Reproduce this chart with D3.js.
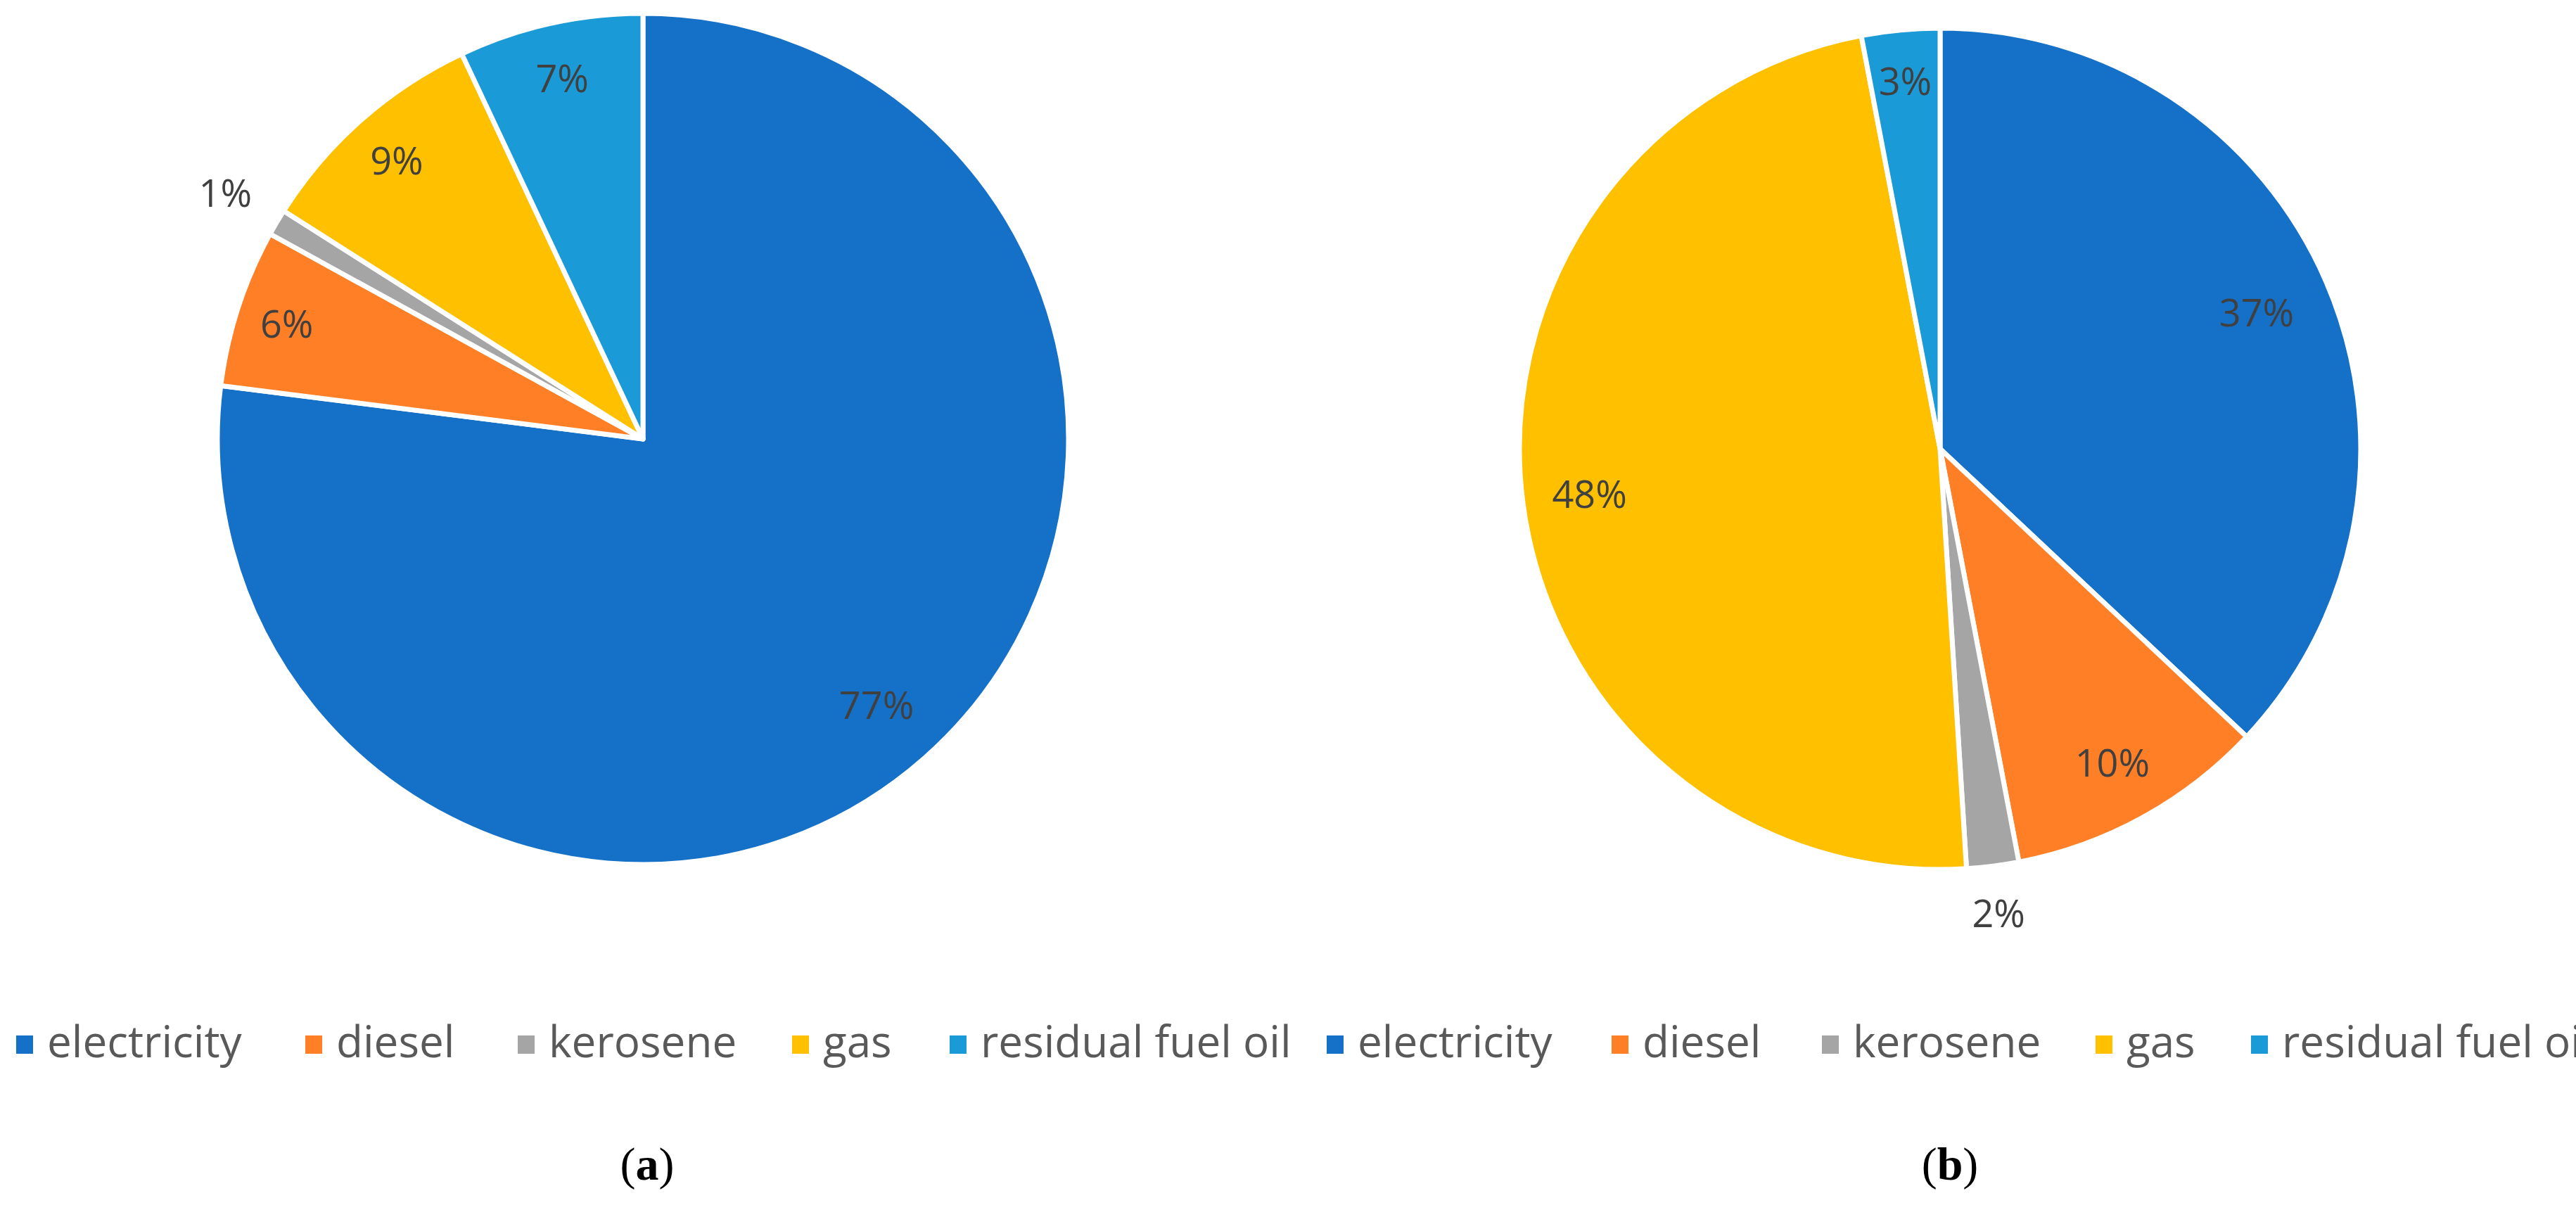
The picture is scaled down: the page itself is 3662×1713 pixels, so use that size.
<!DOCTYPE html>
<html><head><meta charset="utf-8">
<script src="https://cdn.jsdelivr.net/npm/d3@7"></script>
<style>body{margin:0;background:#fff}</style></head>
<body><svg id="c" width="3662" height="1713"></svg>
<script>
const categories = ["electricity","diesel","kerosene","gas","residual fuel oil"];
const valuesA = [77,6,1,9,7];
const valuesB = [37,10,2,48,3];
const labelPosA = [0.83,0.88,1.14,0.875,0.87];
const labelPosB = [0.82,0.85,1.11,0.84,0.88];
const panelLabels = ["a","b"];
const colors = ["#1570C8","#FF7F27","#A5A5A5","#FFC000","#1A9AD6"];

const svg = d3.select("#c");
const color = d3.scaleOrdinal().domain(categories).range(colors);
const pie = d3.pie().sort(null).value(d=>d.v);
function drawPie(cx, cy, R, vals, lpos, panel, legendX, labelX) {
  const g = svg.append("g").attr("transform", `translate(${cx},${cy})`);
  const data = pie(categories.map((c,i)=>({c, v: vals[i], lp: lpos[i]})));
  const arc = d3.arc().innerRadius(0).outerRadius(R);
  g.selectAll("path").data(data).join("path")
    .attr("d", arc).attr("fill", d=>color(d.data.c))
    .attr("stroke","#fff").attr("stroke-width",7).attr("stroke-linejoin","round");
  g.selectAll("text").data(data).join("text")
    .attr("transform", d=>{const a=(d.startAngle+d.endAngle)/2, r=R*d.data.lp; return `translate(${r*Math.sin(a)},${-r*Math.cos(a)})`;})
    .attr("text-anchor","middle").attr("dominant-baseline","central")
    .attr("font-family","Open Sans, sans-serif").attr("font-size",54)
    .attr("fill","#404040").text(d=>d.data.v+"%");
  const lg = svg.append("g").attr("font-family","Open Sans, sans-serif").attr("font-size",62).attr("fill","#595959");
  categories.forEach((c,i)=>{
    const x = legendX[i];
    lg.append("rect").attr("x",x).attr("y",1472).attr("width",24).attr("height",26).attr("fill",color(c));
    lg.append("text").attr("x",x+44).attr("y",1503).text(c);
  });
  const t = svg.append("text").attr("x",labelX).attr("y",1677).attr("text-anchor","middle")
    .attr("font-family","Liberation Serif, serif").attr("font-size",66).attr("fill","#000");
  t.append("tspan").text("(");
  t.append("tspan").attr("font-weight","bold").text(panel);
  t.append("tspan").text(")");
}
drawPie(914, 624, 605, valuesA, labelPosA, panelLabels[0], [23,434,736,1126,1350], 920);
drawPie(2758, 638, 598, valuesB, labelPosB, panelLabels[1], [1886,2291,2590,2979,3200], 2772);
</script></body></html>
